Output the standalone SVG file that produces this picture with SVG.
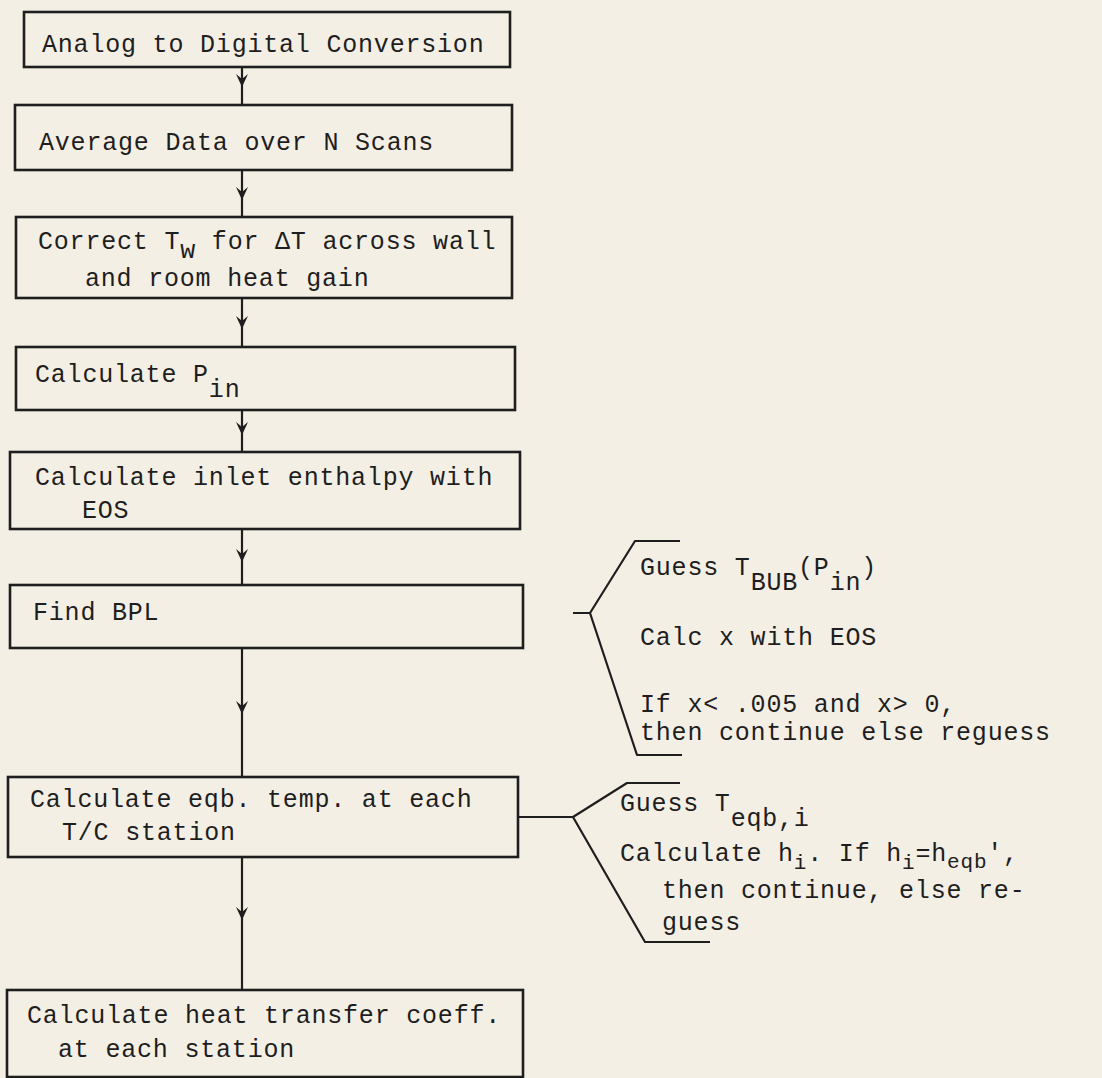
<svg xmlns="http://www.w3.org/2000/svg" width="1102" height="1078" viewBox="0 0 1102 1078">
<style>
.bg{fill:#f4efe5}
.box{fill:none;stroke:#1e1e1e;stroke-width:2.6}
.ln{fill:none;stroke:#1e1e1e;stroke-width:2.2}
.br{fill:none;stroke:#1e1e1e;stroke-width:2.2;stroke-linejoin:round}
text{font-family:"Liberation Mono","DejaVu Sans Mono",monospace;font-size:25px;fill:#1e1e1e;letter-spacing:0.8px}
.sub{font-size:21px}
</style>
<defs>
<marker id="dn" viewBox="0 0 12 14" refX="6" refY="7" markerWidth="12" markerHeight="14" markerUnits="userSpaceOnUse" orient="0">
<path d="M0,1 L6,6 L12,1 L6,14 Z" fill="#1e1e1e"/>
</marker>
</defs>
<rect class="bg" x="0" y="0" width="1102" height="1078"/>

<g id="connectors">
<path class="ln" d="M242,67 L242,80 L242,105" marker-mid="url(#dn)"/>
<path class="ln" d="M242,170 L242,193 L242,217" marker-mid="url(#dn)"/>
<path class="ln" d="M242,298 L242,322 L242,347" marker-mid="url(#dn)"/>
<path class="ln" d="M242,410 L242,428 L242,452" marker-mid="url(#dn)"/>
<path class="ln" d="M242,529 L242,555 L242,585" marker-mid="url(#dn)"/>
<path class="ln" d="M242,648 L242,707 L242,777" marker-mid="url(#dn)"/>
<path class="ln" d="M242,857 L242,913 L242,990" marker-mid="url(#dn)"/>
<path class="br" d="M573,613 L590,613 M680,541 L635,541 L590,613 L637,755 L682,755"/>
<path class="br" d="M518,817 L573,817 M680,783 L627,783 L573,817 L645,942 L710,942"/>
</g>

<g id="n1"><rect class="box" x="24" y="12" width="486" height="55"/>
<text x="42" y="52">Analog to Digital Conversion</text></g>

<g id="n2"><rect class="box" x="15" y="105" width="497" height="65"/>
<text x="39" y="150">Average Data over N Scans</text></g>

<g id="n3"><rect class="box" x="16" y="217" width="496" height="81"/>
<text x="38" y="249">Correct T<tspan dy="9">w</tspan><tspan dy="-9"> for ΔT across wall</tspan></text>
<text x="85" y="286">and room heat gain</text></g>

<g id="n4"><rect class="box" x="16" y="347" width="499" height="63"/>
<text x="35" y="382">Calculate P<tspan dy="15">in</tspan></text></g>

<g id="n5"><rect class="box" x="10" y="452" width="510" height="77"/>
<text x="35" y="485">Calculate inlet enthalpy with</text>
<text x="82" y="518">EOS</text></g>

<g id="n6"><rect class="box" x="10" y="585" width="513" height="63"/>
<text x="33" y="620">Find BPL</text></g>

<g id="n7"><rect class="box" x="8" y="777" width="510" height="80"/>
<text x="30" y="807">Calculate eqb. temp. at each</text>
<text x="62" y="840">T/C station</text></g>

<g id="n8"><rect class="box" x="7" y="990" width="516" height="87"/>
<text x="27" y="1023">Calculate heat transfer coeff.</text>
<text x="58" y="1057">at each station</text></g>

<g id="note1">
<text x="640" y="575">Guess T<tspan dy="15">BUB</tspan><tspan dy="-15">(P</tspan><tspan dy="15">in</tspan><tspan dy="-15">)</tspan></text>
<text x="640" y="645">Calc x with EOS</text>
<text x="640" y="712">If x&lt; .005 and x&gt; 0,</text>
<text x="640" y="740">then continue else reguess</text>
</g>

<g id="note2">
<text x="620" y="811">Guess T<tspan dy="15">eqb,i</tspan></text>
<text x="620" y="861">Calculate h<tspan class="sub" dy="8">i</tspan><tspan dy="-8">. If h</tspan><tspan class="sub" dy="8">i</tspan><tspan dy="-8">=h</tspan><tspan class="sub" dy="7">eqb</tspan><tspan dy="-7">',</tspan></text>
<text x="662" y="898">then continue, else re-</text>
<text x="662" y="930">guess</text>
</g>
</svg>
